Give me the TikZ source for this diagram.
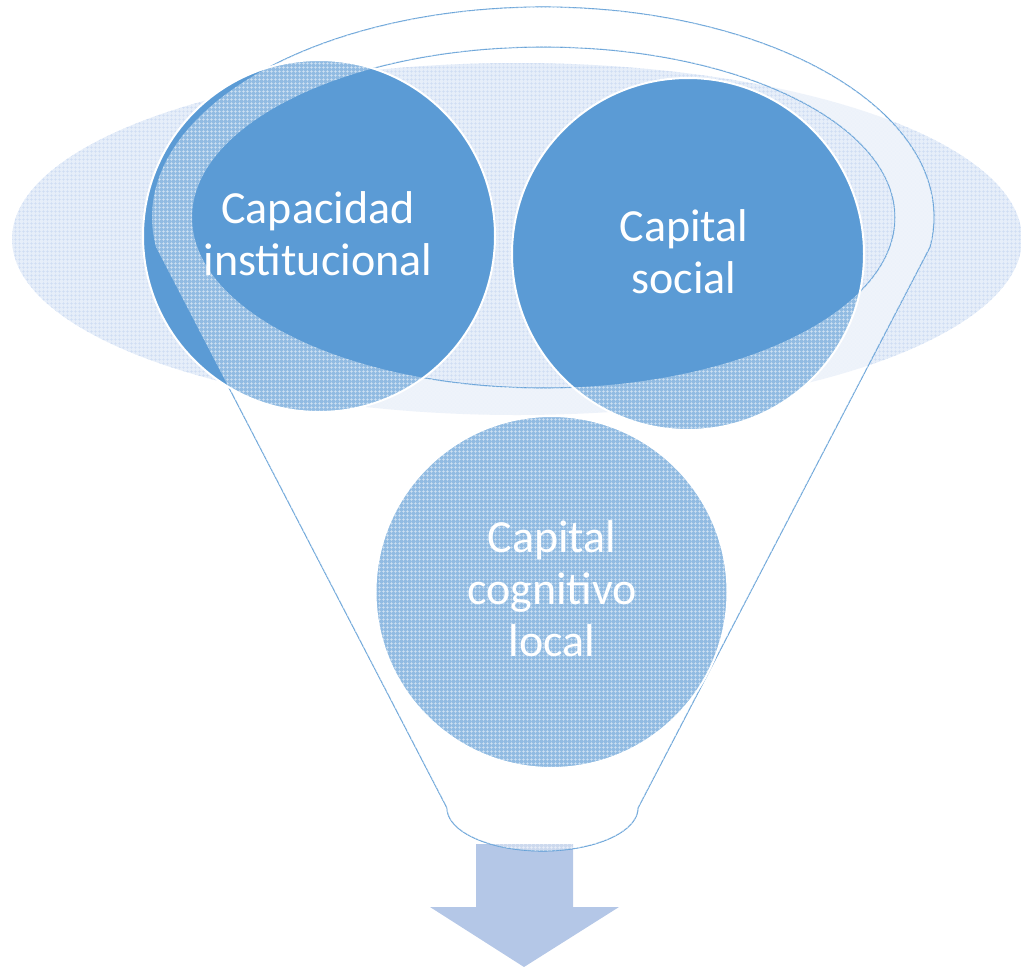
\documentclass[tikz,border=0pt]{standalone}
\usepackage{fontspec}
\setmainfont{Carlito}
\usetikzlibrary{patterns.meta}
\definecolor{accent}{HTML}{5B9BD5}
\definecolor{arrowc}{HTML}{B4C7E7}
\definecolor{ellbase}{RGB}{230,238,249}
\definecolor{ellgrid}{RGB}{206,221,243}
\tikzset{
  bubble/.style={circle, draw=white, line width=2pt, fill=accent, minimum size=352pt, inner sep=0pt},
  bubbletext/.style={text=white, align=center, inner sep=0pt, font=\fontsize{46}{52}\selectfont},
  rim/.style={draw=accent, line width=1.1pt},
}
\def\funnelpath{plot[domain=171.8:368.2, samples=90] ({543+391*cos(\x)},{217+210*sin(\x)}) -- (638,808) -- plot[domain=0:180, samples=40] ({542.5+95.5*cos(\x)},{808+43*sin(\x)}) -- cycle}
\begin{document}
\begin{tikzpicture}[x=1pt,y=-1pt]
\useasboundingbox (0,0) rectangle (1021,967);
% big patterned ellipse
\fill[ellbase] (517,239) ellipse [x radius=505, y radius=176];
\fill[pattern={Hatch[distance=4pt, line width=0.5pt]}, pattern color=ellgrid] (517,239) ellipse [x radius=505, y radius=176];
% arrow
\fill[arrowc] (476,844) -- (573,844) -- (573,907) -- (619,907) -- (524,967) -- (430,907) -- (476,907) -- cycle;
% funnel outlines
\draw[rim] \funnelpath;
\draw[rim] (543.5,217.5) ellipse [x radius=351.5, y radius=170.5];
% circles
\node[bubble] (c1) at (319,236) {};
\node[bubble] (c2) at (688,254) {};
\node[bubble] (c3) at (551.5,592) {};
% glass overlay of the funnel body
\fill[white, fill opacity=0.33, even odd rule] \funnelpath (543.5,217.5) ellipse [x radius=351.5, y radius=170.5];
\fill[pattern={Hatch[distance=4pt, line width=0.8pt]}, pattern color=white, fill opacity=0.6, even odd rule] \funnelpath (543.5,217.5) ellipse [x radius=351.5, y radius=170.5];
% texts
\node[bubbletext] (t1) at (318,233.5) {Capacidad\\institucional};
\node[bubbletext] (t2) at (684,252) {Capital\\social};
\node[bubbletext] (t3) at (552,589) {Capital\\cognitivo\\local};
\end{tikzpicture}
\end{document}
